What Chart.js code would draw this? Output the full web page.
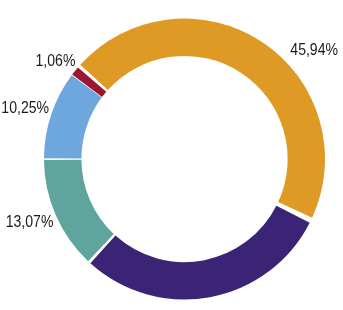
<!DOCTYPE html>
<html>
<head>
<meta charset="utf-8">
<script src="https://cdn.jsdelivr.net/npm/chart.js@4/dist/chart.umd.min.js"></script>
<style>
html,body{margin:0;padding:0;background:#fff;}
#wrap{width:343px;height:310px;}
</style>
</head>
<body>
<div id="wrap"><canvas id="c" width="343" height="310"></canvas></div>
<script>
const categories = ["A", "B", "C", "D", "E"];
const values = [45.94, 29.68, 13.07, 10.25, 1.06];
const valueLabels = ["45,94%", "", "13,07%", "10,25%", "1,06%"];
const colors = ["#DF9A26", "#3B2476", "#5FA59E", "#6EA7DD", "#9A1633"];
// label placement tweaks: [angle shift in degrees, extra radius in px]
const labelNudge = [[10.9, 5], [0, 0], [-2.2, -1], [2.0, -2], [3.1, 0]];

const labelPlugin = {
  id: 'outerLabels',
  afterDatasetsDraw(chart) {
    const ctx = chart.ctx;
    const meta = chart.getDatasetMeta(0);
    ctx.save();
    ctx.font = '16px "Liberation Sans", Arial, sans-serif';
    ctx.fillStyle = '#1a1a1a';
    ctx.textBaseline = 'middle';
    const sx = 0.88;
    meta.data.forEach((arc, i) => {
      const txt = valueLabels[i];
      if (!txt) return;
      const p = arc.getProps(['x', 'y', 'startAngle', 'endAngle', 'outerRadius'], true);
      const mid = (p.startAngle + p.endAngle) / 2 + labelNudge[i][0] * Math.PI / 180;
      const r = p.outerRadius + 8 + labelNudge[i][1];
      const x = p.x + Math.cos(mid) * r;
      const y = p.y + Math.sin(mid) * r;
      ctx.save();
      ctx.translate(x, y);
      ctx.scale(sx, 1);
      ctx.textAlign = Math.cos(mid) >= 0 ? 'left' : 'right';
      ctx.fillText(txt, 0, 0);
      ctx.restore();
    });
    ctx.restore();
  }
};

new Chart(document.getElementById('c'), {
  type: 'doughnut',
  data: {
    labels: categories,
    datasets: [{
      data: values,
      backgroundColor: colors,
      borderWidth: 0,
      spacing: 4
    }]
  },
  options: {
    responsive: false,
    animation: false,
    rotation: 310.7,
    cutout: '73%',
    layout: { padding: { left: 44, right: 18, top: 18, bottom: 10 } },
    plugins: { legend: { display: false }, tooltip: { enabled: false } }
  },
  plugins: [labelPlugin]
});
</script>
</body>
</html>
